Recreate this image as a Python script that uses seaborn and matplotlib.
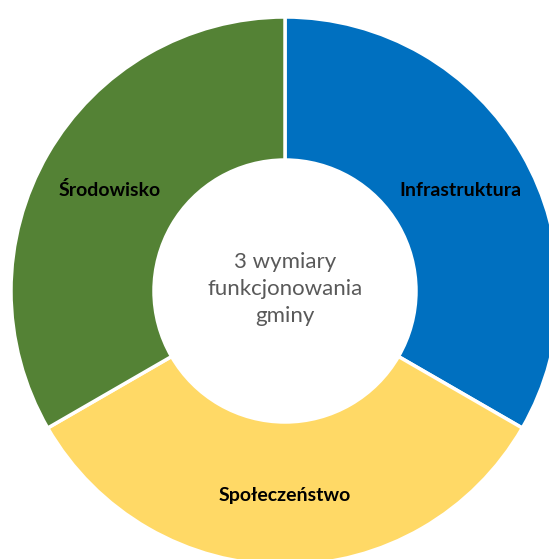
import matplotlib
matplotlib.use("Agg")
import matplotlib.pyplot as plt
import seaborn as sns

categories = ["Infrastruktura", "Społeczeństwo", "Środowisko"]
values = [1, 1, 1]
colors = ["#0070C0", "#FFD966", "#548235"]
center_text = "3 wymiary\nfunkcjonowania\ngminy"

sns.set_theme(style="white")
plt.rcParams["font.family"] = ["Lato", "DejaVu Sans"]

W, H = 549, 559
fig = plt.figure(figsize=(W / 100, H / 100), dpi=100)
ax = fig.add_axes([0, 0, 1, 1])

cx, cy = 285, H - 291
R, r = 274, 131
ax.pie(values, center=(cx, cy), radius=R, startangle=90, counterclock=False,
       colors=colors,
       wedgeprops=dict(width=R - r, edgecolor="white", linewidth=2.5))
ax.set_xlim(0, W)
ax.set_ylim(0, H)
ax.set_aspect("equal")
ax.axis("off")

label_pos = [(460, 190), (285, 495), (110, 190)]
for name, (x, y) in zip(categories, label_pos):
    ax.text(x, H - y, name, ha="center", va="center", fontsize=14,
            fontweight="bold", color="black")

ax.text(cx, H - 289, center_text, ha="center", va="center", fontsize=16,
        color="#595959", linespacing=1.42)

fig.savefig("out.png", dpi=100, facecolor="white")
